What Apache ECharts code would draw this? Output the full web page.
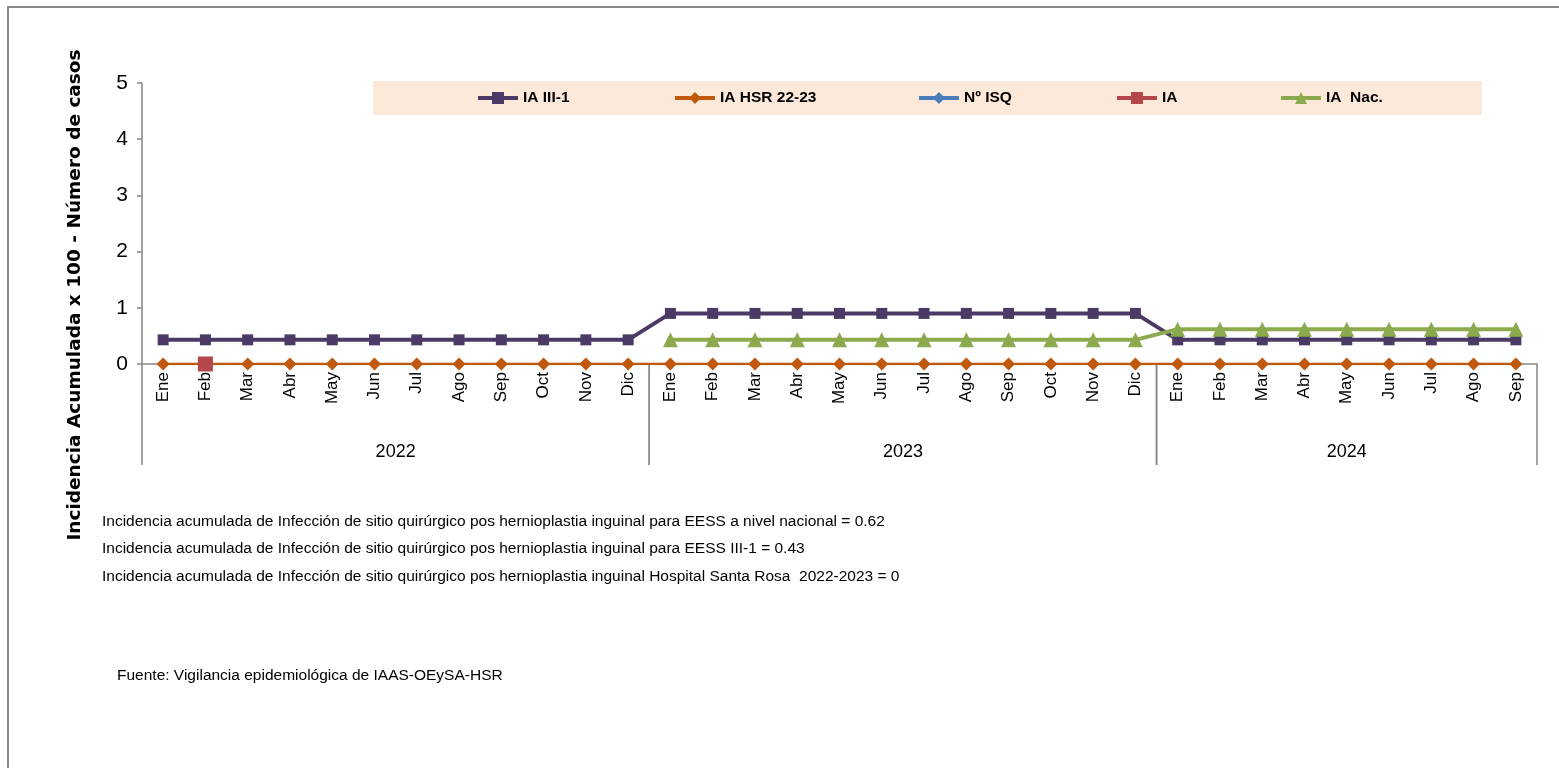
<!DOCTYPE html>
<html>
<head>
<meta charset="utf-8">
<title>Incidencia acumulada ISQ hernioplastia inguinal</title>
<script src="https://cdn.jsdelivr.net/npm/echarts@6/dist/echarts.min.js"></script>
<style>
  html, body { margin: 0; padding: 0; background: #ffffff; }
  #chart { width: 1559px; height: 768px; }
</style>
</head>
<body>
<div id="chart"></div>
<script>
// Month categories, 2022-01 .. 2024-09
const categories = [
  'Ene','Feb','Mar','Abr','May','Jun','Jul','Ago','Sep','Oct','Nov','Dic',
  'Ene','Feb','Mar','Abr','May','Jun','Jul','Ago','Sep','Oct','Nov','Dic',
  'Ene','Feb','Mar','Abr','May','Jun','Jul','Ago','Sep'
];
const years = ['2022', '2023', '2024'];
const monthsPerYear = [12, 12, 9];

const iaIII1 = [
  0.43,0.43,0.43,0.43,0.43,0.43,0.43,0.43,0.43,0.43,0.43,0.43,
  0.90,0.90,0.90,0.90,0.90,0.90,0.90,0.90,0.90,0.90,0.90,0.90,
  0.43,0.43,0.43,0.43,0.43,0.43,0.43,0.43,0.43
];
const iaHsr = [
  0,0,0,0,0,0,0,0,0,0,0,0,
  0,0,0,0,0,0,0,0,0,0,0,0,
  0,0,0,0,0,0,0,0,0
];
const nIsq = [
  null,null,null,null,null,null,null,null,null,null,null,null,
  null,null,null,null,null,null,null,null,null,null,null,null,
  null,null,null,null,null,null,null,null,null
];
const ia = [
  null,0,null,null,null,null,null,null,null,null,null,null,
  null,null,null,null,null,null,null,null,null,null,null,null,
  null,null,null,null,null,null,null,null,null
];
const iaNac = [
  null,null,null,null,null,null,null,null,null,null,null,null,
  0.43,0.43,0.43,0.43,0.43,0.43,0.43,0.43,0.43,0.43,0.43,0.43,
  0.62,0.62,0.62,0.62,0.62,0.62,0.62,0.62,0.62
];
const yTicks = { min: 0, max: 5, interval: 1 };

const notes = [
  'Incidencia acumulada de Infección de sitio quirúrgico pos hernioplastia inguinal para EESS a nivel nacional = 0.62',
  'Incidencia acumulada de Infección de sitio quirúrgico pos hernioplastia inguinal para EESS III-1 = 0.43',
  'Incidencia acumulada de Infección de sitio quirúrgico pos hernioplastia inguinal Hospital Santa Rosa  2022-2023 = 0'
];
const source = 'Fuente: Vigilancia epidemiológica de IAAS-OEySA-HSR';
const yTitle = 'Incidencia Acumulada x 100 - Número de casos';

const SANS = '"Liberation Sans", Arial, sans-serif';
const AXIS_GRAY = '#868686';

// Year groups: [first index, last index, label]
const yearGroups = [];
let start = 0;
years.forEach(function (y, i) {
  yearGroups.push([start, start + monthsPerYear[i] - 1, y]);
  start += monthsPerYear[i];
});

const seriesDefs = [
  { name: 'IA III-1', data: iaIII1, color: '#4B3A66', width: 4, symbol: 'rect', size: 11 },
  { name: 'IA HSR 22-23', data: iaHsr, color: '#C0580E', width: 2.5, symbol: 'diamond', size: 13 },
  { name: 'Nº ISQ', data: nIsq, color: '#4A7EBB', width: 4, symbol: 'diamond', size: 13 },
  { name: 'IA', data: ia, color: '#B5474A', width: 4, symbol: 'rect', size: 15 },
  { name: 'IA  Nac.', data: iaNac, color: '#8BAA4E', width: 4, symbol: 'triangle', size: 15 }
];

const legendLeft = [476, 673, 917, 1115, 1279];

const chart = echarts.init(document.getElementById('chart'), null, { renderer: 'canvas' });

const option = {
  backgroundColor: '#ffffff',
  animation: false,
  grid: { left: 142, right: 22, top: 83, bottom: 404, containLabel: false },
  legend: seriesDefs.map(function (s, i) {
    return {
      data: [s.name],
      left: legendLeft[i],
      top: 90,
      itemWidth: 40,
      itemHeight: 15,
      itemGap: 0,
      padding: 0,
      selectedMode: false,
      lineStyle: { width: s.width === 2.5 ? 4 : s.width },
      textStyle: { fontFamily: SANS, fontWeight: 'bold', fontSize: 15.5, color: '#000' }
    };
  }),
  xAxis: {
    type: 'category',
    data: categories,
    boundaryGap: true,
    axisLine: { show: true, lineStyle: { color: AXIS_GRAY, width: 1.5 } },
    axisTick: { show: false },
    splitLine: { show: false },
    axisLabel: {
      interval: 0,
      rotate: 90,
      margin: 8,
      fontFamily: SANS,
      fontSize: 17,
      color: '#000'
    }
  },
  yAxis: {
    type: 'value',
    min: yTicks.min,
    max: yTicks.max,
    interval: yTicks.interval,
    axisLine: { show: true, lineStyle: { color: AXIS_GRAY, width: 1.5 } },
    axisTick: { show: true, inside: false, length: 5, lineStyle: { color: AXIS_GRAY, width: 1.5 } },
    splitLine: { show: false },
    axisLabel: { margin: 14, fontFamily: SANS, fontSize: 21, color: '#000' }
  },
  graphic: [
    {
      type: 'rect', z: -10, silent: true,
      shape: { x: 8, y: 7, width: 1700, height: 900 },
      style: { fill: 'none', stroke: '#8a8a8a', lineWidth: 2 }
    },
    {
      type: 'rect', z: -5, silent: true,
      shape: { x: 373, y: 81, width: 1109, height: 34 },
      style: { fill: '#FDE9D9' }
    },
    {
      type: 'text', silent: true,
      x: 75, y: 295, rotation: Math.PI / 2,
      style: {
        text: yTitle, fill: '#000',
        font: 'bold 18.5px "DejaVu Sans", Verdana, sans-serif',
        align: 'center', verticalAlign: 'middle'
      }
    },
    {
      type: 'group', silent: true,
      children: notes.map(function (t, i) {
        return {
          type: 'text', x: 102, y: [522, 549, 577][i],
          style: { text: t, fill: '#000', font: '15.5px ' + SANS, verticalAlign: 'middle' }
        };
      })
    },
    {
      type: 'text', silent: true, x: 117, y: 676,
      style: { text: source, fill: '#000', font: '15.5px ' + SANS, verticalAlign: 'middle' }
    }
  ],
  series: seriesDefs.map(function (s) {
    return {
      name: s.name,
      type: 'line',
      data: s.data,
      symbol: s.symbol,
      symbolSize: s.size,
      showSymbol: true,
      connectNulls: false,
      lineStyle: { color: s.color, width: s.width },
      itemStyle: { color: s.color },
      emphasis: { disabled: true }
    };
  }).concat([{
    // Year row of the two-level category axis with its group separators
    type: 'custom',
    silent: true,
    clip: false,
    z: 1,
    data: yearGroups,
    encode: { x: 0 },
    renderItem: function (params, api) {
      const first = api.value(0);
      const last = api.value(1);
      const p0 = api.coord([first, 0]);
      const p1 = api.coord([last, 0]);
      const band = api.size([1, 0])[0];
      const x0 = p0[0] - band / 2;
      const x1 = p1[0] + band / 2;
      const y0 = p0[1];
      const lineStyle = { stroke: AXIS_GRAY, lineWidth: 1.5 };
      return {
        type: 'group',
        children: [
          { type: 'line', shape: { x1: x0, y1: y0, x2: x0, y2: y0 + 101 }, style: lineStyle },
          { type: 'line', shape: { x1: x1, y1: y0, x2: x1, y2: y0 + 101 }, style: lineStyle },
          {
            type: 'text', x: (x0 + x1) / 2, y: y0 + 88,
            style: {
              text: yearGroups[params.dataIndex][2], fill: '#000',
              font: '18px ' + SANS, align: 'center', verticalAlign: 'middle'
            }
          }
        ]
      };
    }
  }])
};

chart.setOption(option);
</script>
</body>
</html>
